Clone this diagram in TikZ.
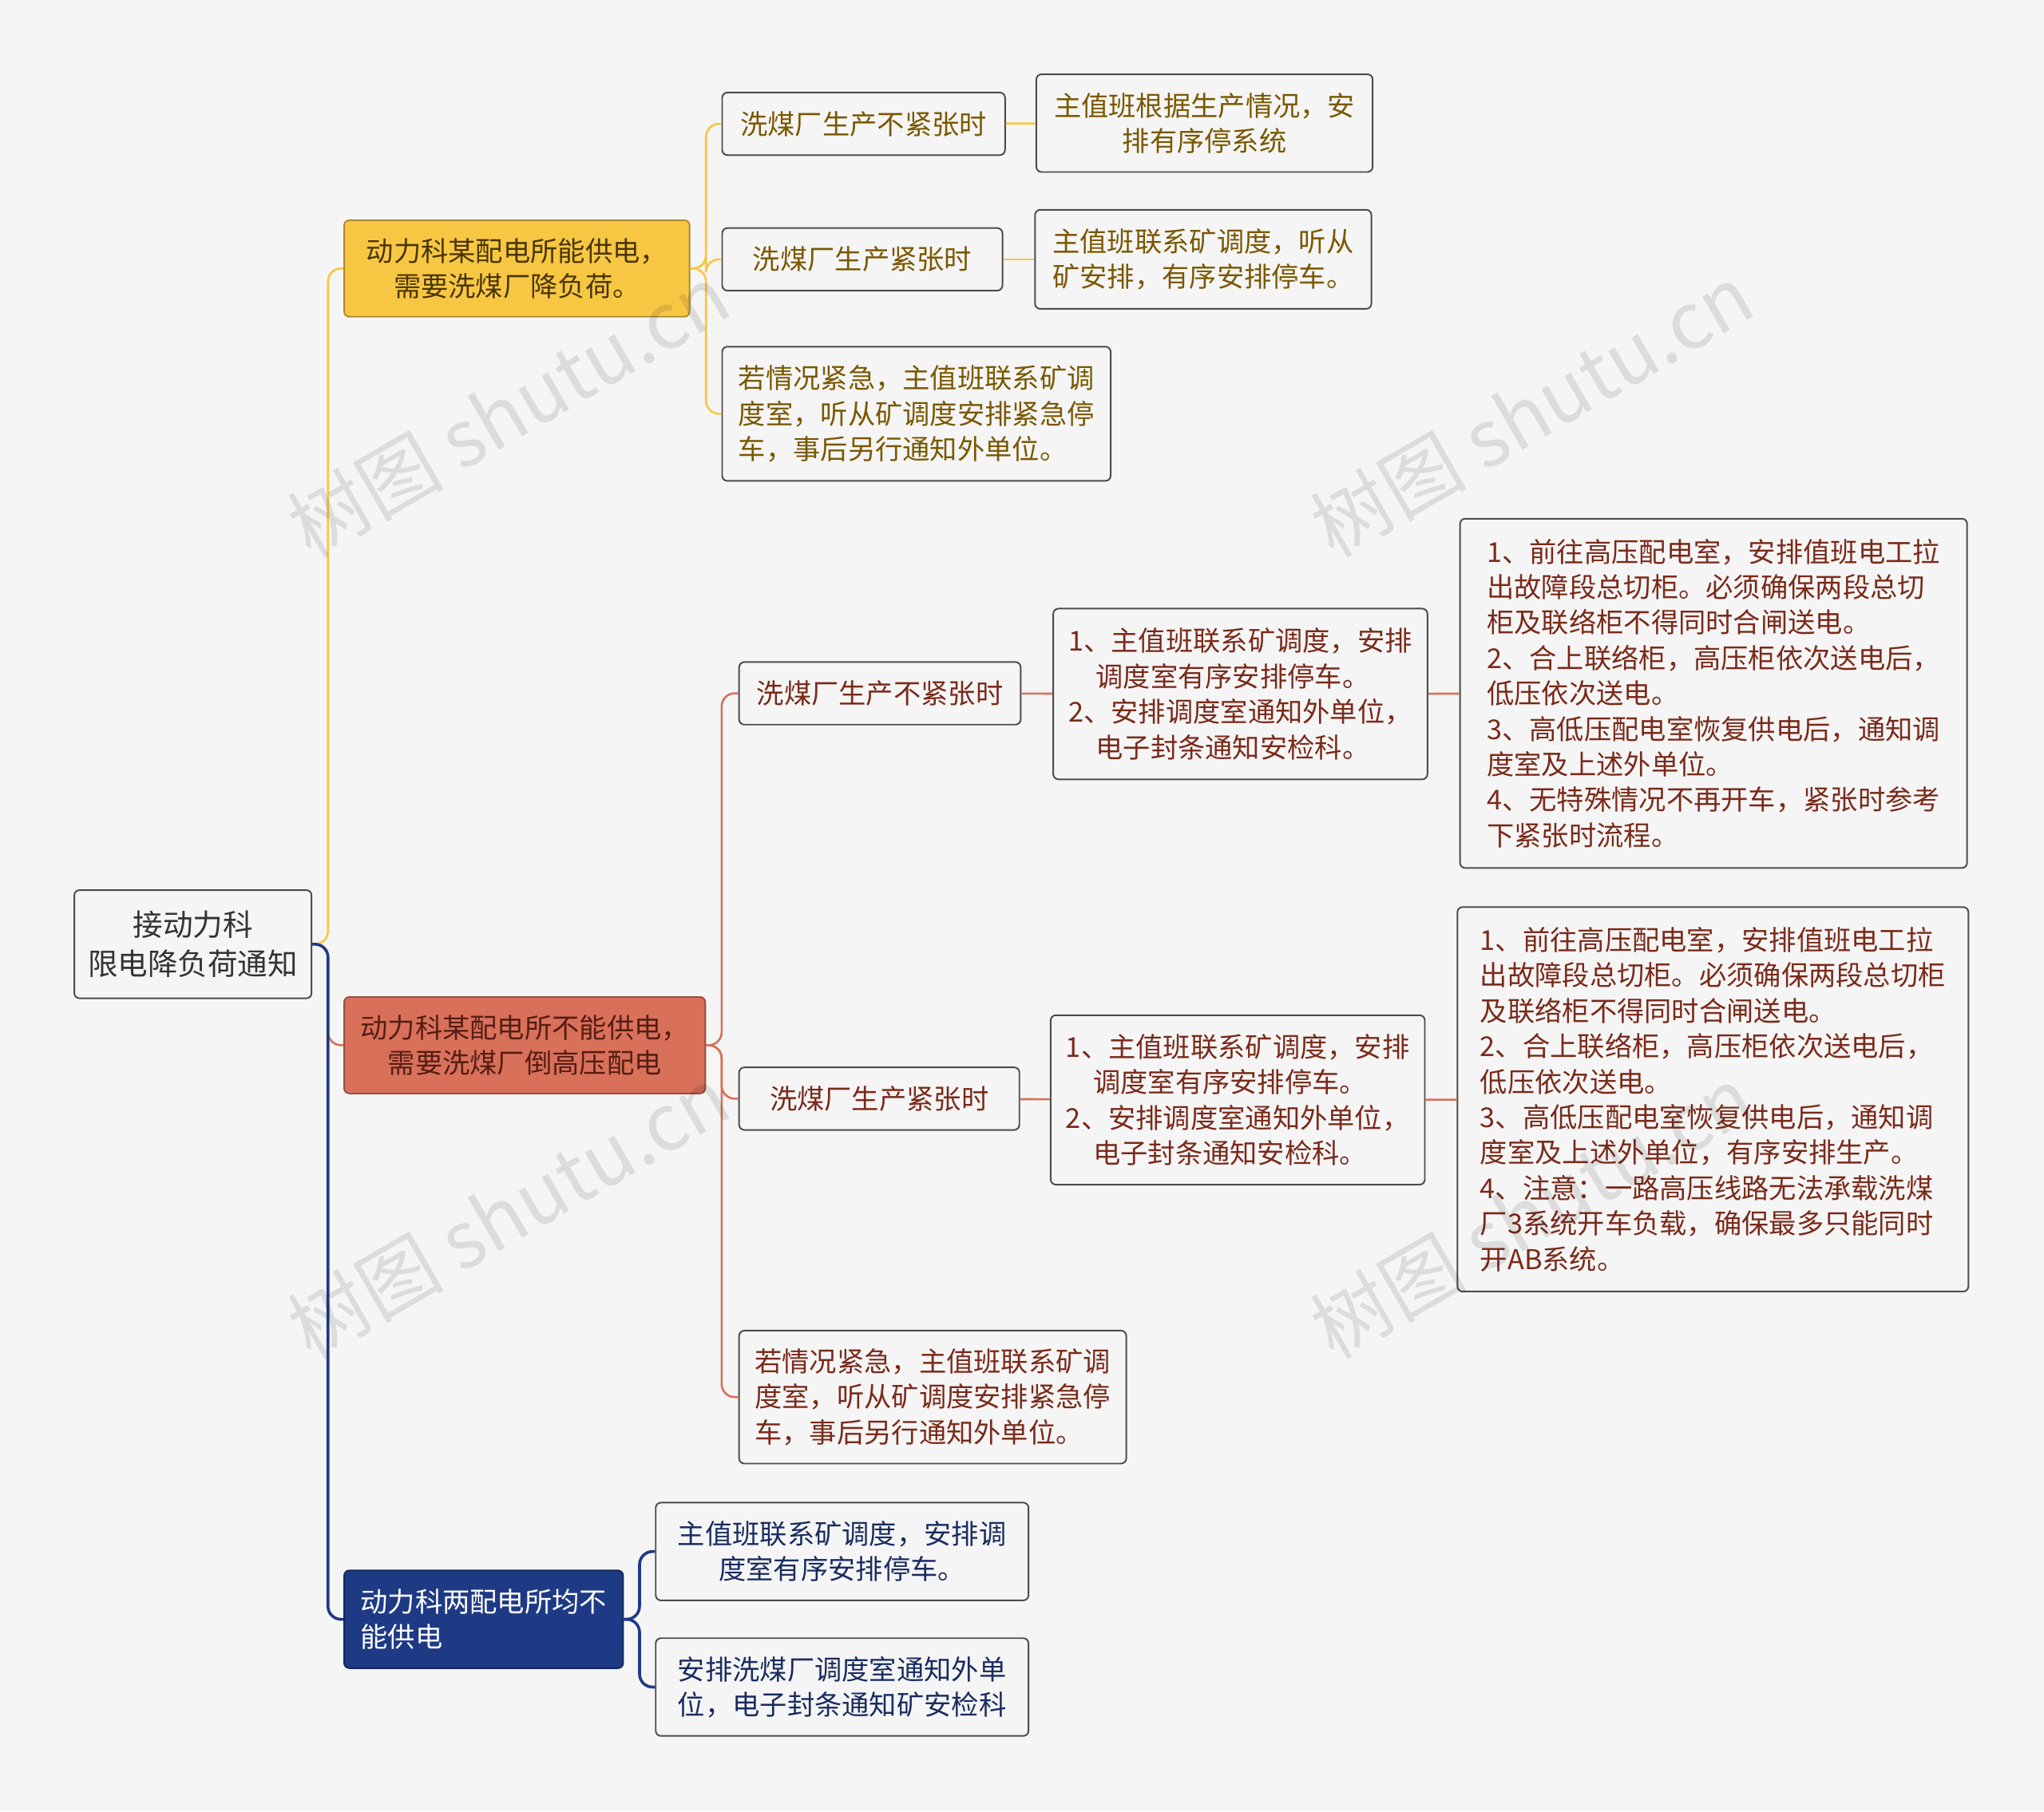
\documentclass[tikz,border=0pt]{standalone}
\usepackage{fontspec}
\setmainfont{Noto Sans CJK SC}
\begin{document}
\begin{tikzpicture}[x=0.5pt,y=-0.5pt,
 box/.style={draw=#1,rounded corners=2pt,line width=0.6pt,inner sep=0pt,font=\fontsize{10.5}{13.6}\selectfont},
 box/.default={black!70},
 yl/.style={draw=yc,line width=0.8pt,rounded corners=5pt},
 rl/.style={draw=rc,line width=0.8pt,rounded corners=5pt},
 nl/.style={draw=nc,line width=1.1pt,rounded corners=5pt},
 wm/.style={text=black,text opacity=0.1,font=\fontsize{30}{30}\selectfont,rotate=30}]
\definecolor{bg}{HTML}{F5F5F5}
\definecolor{yc}{HTML}{F7C744}
\definecolor{rc}{HTML}{D9705A}
\definecolor{nc}{HTML}{1F3A85}
\definecolor{ytx}{HTML}{7A5800}
\definecolor{rtx}{HTML}{7A2A1A}
\definecolor{ntx}{HTML}{1A2C60}
\fill[bg] (0,0) rectangle (1568,1390);
\useasboundingbox (0,0) rectangle (1568,1390);
% root
\node[box,fill=bg,minimum width=91pt,minimum height=41.5pt,align=center,text=black!80,font=\fontsize{11.5}{15}\selectfont] (root) at (148,724.5) {接动力科\\限电降负荷通知};
% level 1
\node[box=yc!70!black,fill=yc,minimum width=132.5pt,minimum height=37pt,align=center,text=ytx!60!black] (A1) at (396.5,206) {动力科某配电所能供电，\\需要洗煤厂降负荷。};
\node[box=rc!70!black,fill=rc,minimum width=138.5pt,minimum height=37pt,align=center,text=rtx!70!black] (A2) at (402.5,802) {动力科某配电所不能供电，\\需要洗煤厂倒高压配电};
\node[box=nc!70!black,fill=nc,minimum width=107pt,minimum height=37.5pt,align=left,text=white] (A3) at (371,1242.5) {动力科两配电所均不\\能供电};
% yellow branch
\node[box,fill=bg,minimum width=108.5pt,minimum height=24pt,text=ytx] (B1) at (662.5,95) {洗煤厂生产不紧张时};
\node[box,fill=bg,minimum width=107.5pt,minimum height=24pt,text=ytx] (B2) at (661.5,199) {洗煤厂生产紧张时};
\node[box,fill=bg,minimum width=149pt,minimum height=51.5pt,align=left,text=ytx] (B3) at (703,317.5) {若情况紧急，主值班联系矿调\\度室，听从矿调度安排紧急停\\车，事后另行通知外单位。};
\node[box,fill=bg,minimum width=129pt,minimum height=37.5pt,align=center,text=ytx] (C1) at (924,94.5) {主值班根据生产情况，安\\排有序停系统};
\node[box,fill=bg,minimum width=129pt,minimum height=38pt,align=left,text=ytx] (C2) at (923,199) {主值班联系矿调度，听从\\矿安排，有序安排停车。};
% red branch
\node[box,fill=bg,minimum width=108pt,minimum height=24pt,text=rtx] (D1) at (675,532) {洗煤厂生产不紧张时};
\node[box,fill=bg,minimum width=107.5pt,minimum height=24pt,text=rtx] (D2) at (674.5,843) {洗煤厂生产紧张时};
\node[box,fill=bg,minimum width=148.5pt,minimum height=51pt,align=left,text=rtx] (D3) at (715.5,1072) {若情况紧急，主值班联系矿调\\度室，听从矿调度安排紧急停\\车，事后另行通知外单位。};
\node[box,fill=bg,minimum width=143.5pt,minimum height=65.5pt,align=left,text=rtx] (E1) at (951.5,532.5) {1、主值班联系矿调度，安排\\\quad 调度室有序安排停车。\\2、安排调度室通知外单位，\\\quad 电子封条通知安检科。};
\node[box,fill=bg,minimum width=143.5pt,minimum height=65pt,align=left,text=rtx] (E2) at (949.5,844) {1、主值班联系矿调度，安排\\\quad 调度室有序安排停车。\\2、安排调度室通知外单位，\\\quad 电子封条通知安检科。};
\node[box,fill=bg,minimum width=194.5pt,minimum height=134pt,align=left,text=rtx] (F1) at (1314.5,532) {1、前往高压配电室，安排值班电工拉\\出故障段总切柜。必须确保两段总切\\柜及联络柜不得同时合闸送电。\\2、合上联络柜，高压柜依次送电后，\\低压依次送电。\\3、高低压配电室恢复供电后，通知调\\度室及上述外单位。\\4、无特殊情况不再开车，紧张时参考\\下紧张时流程。\hspace{8pt}};
\node[box,fill=bg,minimum width=196pt,minimum height=147.5pt,align=left,text=rtx] (F2) at (1314,843.5) {1、前往高压配电室，安排值班电工拉\\出故障段总切柜。必须确保两段总切柜\\及联络柜不得同时合闸送电。\\2、合上联络柜，高压柜依次送电后，\\低压依次送电。\\3、高低压配电室恢复供电后，通知调\\度室及上述外单位，有序安排生产。\\4、注意：一路高压线路无法承载洗煤\\厂3系统开车负载，确保最多只能同时\\开AB系统。\hspace{6pt}};
% navy branch
\node[box,fill=bg,minimum width=143pt,minimum height=37.5pt,align=center,text=ntx] (G1) at (646,1190.5) {主值班联系矿调度，安排调\\度室有序安排停车。};
\node[box,fill=bg,minimum width=143pt,minimum height=37.5pt,align=left,text=ntx] (G2) at (646,1294.5) {安排洗煤厂调度室通知外单\\位，电子封条通知矿安检科};
% connectors
\draw[yl] (root.east) -- ++(12,0) |- (A1.west);
\draw[rl] (root.east) -- ++(12,0) |- (A2.west);
\draw[nl] (root.east) -- ++(12,0) |- (A3.west);
\foreach \t in {B1,B2,B3} \draw[yl] (A1.east) -- ++(12,0) |- (\t.west);
\draw[yl] (B1) -- (C1);
\draw[yl] (B2) -- (C2);
\foreach \t in {D1,D2,D3} \draw[rl] (A2.east) -- ++(12,0) |- (\t.west);
\draw[rl] (D1) -- (E1); \draw[rl] (E1) -- (F1);
\draw[rl] (D2) -- (E2); \draw[rl] (E2) -- (F2);
\foreach \t in {G1,G2} \draw[nl] (A3.east) -- ++(12,0) |- (\t.west);
% watermarks
\node[wm] (w1) at (390,315) {树图 shutu.cn};
\node[wm] (w2) at (1175,315) {树图 shutu.cn};
\node[wm] (w3) at (390,930) {树图 shutu.cn};
\node[wm] (w4) at (1175,930) {树图 shutu.cn};
\end{tikzpicture}
\end{document}
